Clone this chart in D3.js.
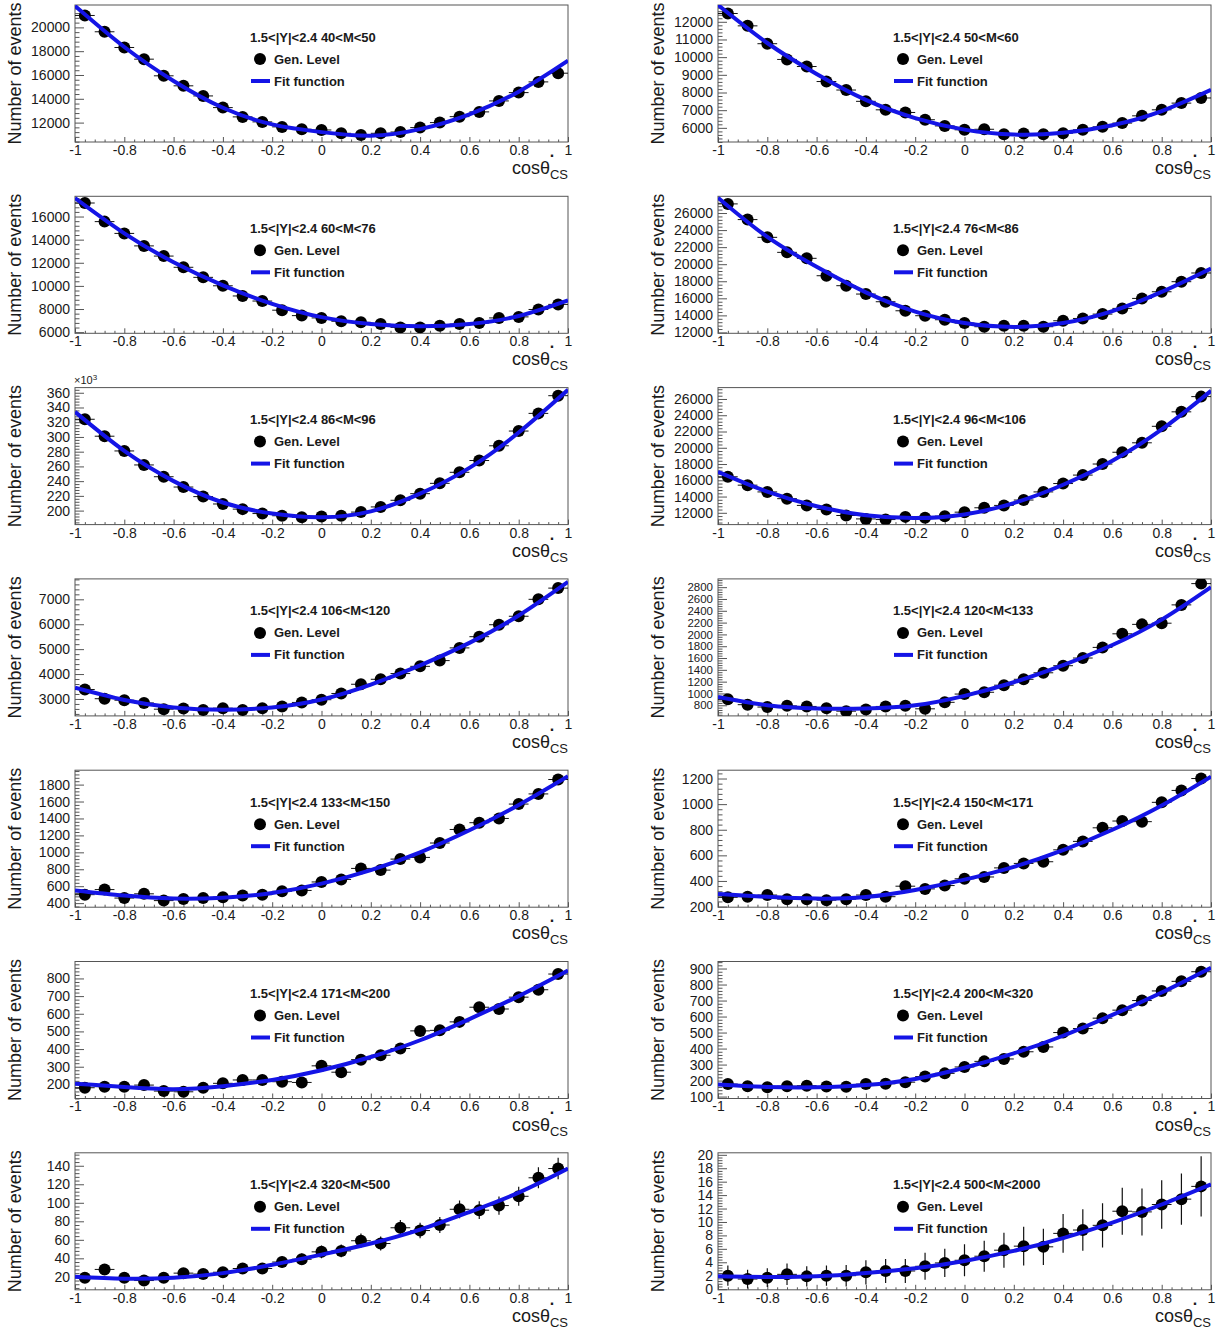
<!DOCTYPE html>
<html>
<head>
<meta charset="utf-8">
<script src="https://cdn.jsdelivr.net/npm/d3@7"></script>
<style>
  body { margin: 0; background: #fff; }
  svg text { font-family: "Liberation Sans", Arial, sans-serif; fill: #1a1a1a; }
</style>
</head>
<body>
<svg id="chart" width="1224" height="1333"></svg>
<script>
// bin centres of the cos(theta_CS) histogram, 25 bins of width 0.08
const binCenters = [-0.96, -0.88, -0.8, -0.72, -0.64, -0.56, -0.48, -0.4, -0.32, -0.24, -0.16, -0.08, 0,
  0.08, 0.16, 0.24, 0.32, 0.4, 0.48, 0.56, 0.64, 0.72, 0.8, 0.88, 0.96];
const binHalfWidth = 0.04;
const fitNodes = [-1, -0.8, -0.6, -0.4, -0.2, 0, 0.2, 0.4, 0.6, 0.8, 1];
const xTicks = [-1, -0.8, -0.6, -0.4, -0.2, 0, 0.2, 0.4, 0.6, 0.8, 1];
const xTickLabels = ["-1", "-0.8", "-0.6", "-0.4", "-0.2", "0", "0.2", "0.4", "0.6", "0.8", "1"];

const rapidityLabel = "1.5<|Y|<2.4";
const massLabels = ["40<M<50", "50<M<60", "60<M<76", "76<M<86", "86<M<96", "96<M<106", "106<M<120",
  "120<M<133", "133<M<150", "150<M<171", "171<M<200", "200<M<320", "320<M<500", "500<M<2000"];

// y axis ranges and major tick steps, one per panel
const yRanges = [[10370, 21880], [5200, 12950], [5900, 17750], [11900, 27960], [181000, 367000],
  [10550, 27400], [2320, 7820], [620, 2940], [352, 1970], [195, 1265], [120, 896], [88, 944],
  [6, 154], [-0.1, 20.3]];
const yTickSteps = [2000, 1000, 2000, 2000, 20000, 2000, 1000, 200, 200, 200, 100, 100, 20, 2];

const gen_40_50 = [21000, 19630, 18310, 17330, 15930, 15090, 14240, 13260, 12480, 12060, 11640, 11440, 11380,
  11100, 10960, 11100, 11210, 11580, 12000, 12500, 12900, 13820, 14520, 15420, 16150];
const fit_40_50 = [21800, 18350, 15500, 13250, 11850, 11200, 10900, 11450, 12700, 14600, 17200];

const gen_50_60 = [12470, 11770, 10760, 9870, 9470, 8620, 8140, 7500, 7020, 6870, 6460, 6110, 5890,
  5920, 5640, 5680, 5640, 5700, 5890, 6060, 6270, 6680, 7020, 7400, 7690];
const fit_50_60 = [12950, 10800, 9050, 7580, 6550, 5900, 5620, 5720, 6150, 6950, 8150];

const gen_60_76 = [17170, 15560, 14540, 13460, 12580, 11610, 10740, 10010, 9130, 8690, 7900, 7430, 7230,
  6940, 6850, 6700, 6410, 6410, 6560, 6700, 6790, 7230, 7320, 7960, 8400];
const fit_60_76 = [17600, 14550, 12050, 10050, 8450, 7300, 6700, 6500, 6700, 7400, 8750];

const gen_76_86 = [27070, 25230, 23150, 21390, 20690, 18650, 17480, 16500, 15600, 14540, 13960, 13490, 13100,
  12670, 12780, 12780, 12670, 13370, 13640, 14150, 14820, 15990, 16770, 17950, 18970];
const fit_76_86 = [27800, 23200, 19700, 16700, 14450, 13100, 12650, 13100, 14500, 16750, 19500];

const gen_86_96 = [324000, 301000, 281000, 262000, 246000, 232000, 219000, 209000, 202000, 196000, 193000, 191000, 192000,
  193000, 198000, 205000, 214000, 223000, 237000, 252000, 268000, 288000, 308000, 332000, 356000];
const fit_86_96 = [334000, 281000, 240000, 211000, 196000, 191000, 199000, 223000, 258000, 306000, 364000];

const gen_96_106 = [16430, 15400, 14570, 13740, 12910, 12410, 11670, 11250, 11170, 11500, 11380, 11590, 12080,
  12620, 12910, 13570, 14570, 15600, 16640, 18000, 19450, 20610, 22640, 24420, 26290];
const fit_96_106 = [17050, 14600, 12800, 11700, 11350, 11800, 13200, 15450, 18400, 22250, 27000];

const gen_106_120 = [3380, 3010, 2950, 2840, 2590, 2620, 2560, 2630, 2560, 2630, 2700, 2860, 2970,
  3220, 3590, 3790, 4020, 4310, 4540, 5050, 5500, 5980, 6320, 7000, 7450];
const fit_106_120 = [3450, 2960, 2660, 2570, 2660, 2980, 3580, 4350, 5250, 6350, 7700];

const gen_120_133 = [900, 810, 770, 790, 780, 750, 700, 730, 780, 790, 740, 850, 990,
  1020, 1140, 1240, 1350, 1470, 1600, 1780, 2010, 2170, 2190, 2500, 2860];
const fit_120_133 = [940, 800, 745, 745, 800, 960, 1190, 1480, 1820, 2250, 2800];

const gen_133_150 = [500, 560, 460, 510, 430, 450, 460, 470, 490, 500, 540, 550, 650,
  680, 810, 790, 920, 940, 1110, 1270, 1350, 1400, 1570, 1690, 1860];
const fit_133_150 = [550, 490, 455, 465, 520, 630, 790, 1000, 1260, 1560, 1900];

const gen_150_171 = [272, 277, 290, 258, 258, 250, 258, 290, 277, 359, 338, 364, 417,
  431, 502, 537, 550, 643, 709, 815, 868, 863, 1014, 1107, 1200];
const fit_150_171 = [298, 276, 262, 275, 330, 410, 510, 640, 800, 990, 1215];

const gen_171_200 = [181, 187, 187, 196, 162, 158, 181, 206, 225, 225, 215, 211, 305,
  269, 340, 365, 403, 503, 506, 554, 637, 627, 694, 736, 825];
const fit_171_200 = [204, 185, 173, 190, 225, 280, 355, 450, 570, 700, 845];

const gen_200_320 = [178, 165, 158, 165, 168, 163, 162, 178, 180, 190, 225, 245, 285,
  320, 335, 380, 410, 500, 525, 590, 640, 700, 760, 820, 880];
const fit_200_320 = [175, 160, 158, 172, 210, 280, 370, 480, 610, 750, 905];

const gen_320_500 = [19, 28, 19, 16, 19, 24, 23, 25, 29, 29, 36, 39, 47,
  48, 59, 56, 73, 70, 76, 93, 92, 97, 107, 127, 137];
const err_320_500 = [4.4, 5.3, 4.4, 4.0, 4.4, 4.9, 4.8, 5.0, 5.4, 5.4, 6.0, 6.2, 6.9,
  6.9, 7.7, 7.5, 8.5, 8.4, 8.7, 9.6, 9.6, 9.8, 10.3, 11.3, 11.7];
const fit_320_500 = [20, 18, 19, 24, 33, 44, 56, 71, 90, 111, 137];

const gen_500_2000 = [2.0, 1.5, 1.7, 2.2, 1.9, 2.0, 2.0, 2.5, 2.7, 2.7, 3.4, 3.9, 4.3,
  4.9, 5.8, 6.4, 6.3, 8.3, 8.8, 9.5, 11.6, 11.5, 12.6, 13.4, 15.3];
const err_500_2000 = [1.5, 1.4, 1.4, 1.6, 1.5, 1.5, 1.6, 1.8, 1.8, 1.8, 2.0, 2.1, 2.4,
  2.3, 2.6, 2.9, 2.7, 2.9, 3.1, 3.3, 3.5, 3.5, 3.6, 3.8, 4.5];
const fit_500_2000 = [1.9, 1.8, 1.9, 2.4, 3.1, 4.2, 5.7, 7.6, 9.9, 12.6, 15.6];

const genSeries = [gen_40_50, gen_50_60, gen_60_76, gen_76_86, gen_86_96, gen_96_106, gen_106_120,
  gen_120_133, gen_133_150, gen_150_171, gen_171_200, gen_200_320, gen_320_500, gen_500_2000];
const fitSeries = [fit_40_50, fit_50_60, fit_60_76, fit_76_86, fit_86_96, fit_96_106, fit_106_120,
  fit_120_133, fit_133_150, fit_150_171, fit_171_200, fit_200_320, fit_320_500, fit_500_2000];
const errSeries = [null, null, null, null, null, null, null, null, null, null, null, null, err_320_500, err_500_2000];

// layout
const frameW = 493;
const frameH = 137;
const colX = [75, 718];
const rowTop = 5;
const rowStep = 191.3;
const fitColor = "#1414e6";
const axisColor = "#555";

let svg = d3.select("#chart");

massLabels.forEach((mass, i) => {
  let col = i % 2;
  let row = Math.floor(i / 2);
  let g = svg.append("g")
    .attr("transform", `translate(${colX[col]},${rowTop + row * rowStep})`);

  let x = d3.scaleLinear().domain([-1, 1]).range([0, frameW]);
  let y = d3.scaleLinear().domain(yRanges[i]).range([frameH, 0]);

  let step = yTickSteps[i];
  let [lo, hi] = yRanges[i];
  let major = [];
  for (let k = Math.ceil(lo / step - 1e-9); k * step <= hi + 1e-9; k++) major.push(k * step);
  let minorStep = step / 5;
  let minor = [];
  for (let k = Math.ceil(lo / minorStep - 1e-9); k * minorStep <= hi + 1e-9; k++) {
    if (k % 5 != 0) minor.push(k * minorStep);
  }
  let inThousands = i == 4;
  // crowded axes get slightly smaller labels
  let tickGap = Math.abs(y(lo) - y(lo + step));
  let labelSize = tickGap < 13 ? 11.5 : 14;

  // y axis, ticks pointing into the frame (ROOT style)
  g.append("g")
    .call(d3.axisLeft(y).tickValues(minor).tickSize(-4.5).tickFormat(""))
    .call((a) => a.select(".domain").remove());
  g.append("g")
    .call(d3.axisLeft(y).tickValues(major).tickSize(-9).tickPadding(5)
      .tickFormat((d) => (inThousands ? d / 1000 : d)))
    .call((a) => a.select(".domain").remove())
    .selectAll("text")
    .style("font-size", labelSize + "px")
    .style("font-family", "Liberation Sans, Arial, sans-serif");

  // x axis
  let xMinor = [];
  for (let k = -25; k <= 25; k++) if (k % 5 != 0) xMinor.push(k * 0.04);
  g.append("g")
    .attr("transform", `translate(0,${frameH})`)
    .call(d3.axisBottom(x).tickValues(xMinor).tickSize(-2.5).tickFormat(""))
    .call((a) => a.select(".domain").remove());
  g.append("g")
    .attr("transform", `translate(0,${frameH})`)
    .call(d3.axisBottom(x).tickValues(xTicks).tickSize(-5).tickPadding(3)
      .tickFormat((d, k) => xTickLabels[k]))
    .call((a) => a.select(".domain").remove())
    .selectAll("text")
    .style("font-size", "14px")
    .style("font-family", "Liberation Sans, Arial, sans-serif");

  g.selectAll(".tick line").attr("stroke", axisColor);

  // stray dot printed next to the last label
  g.append("text")
    .attr("x", x(0.935))
    .attr("y", frameH + 15)
    .attr("text-anchor", "middle")
    .style("font-size", "16px")
    .style("font-weight", "bold")
    .text(".");

  // frame
  g.append("rect")
    .attr("width", frameW)
    .attr("height", frameH)
    .attr("fill", "none")
    .attr("stroke", axisColor)
    .attr("stroke-width", 1);

  if (inThousands) {
    let t = g.append("text").attr("x", -1).attr("y", -4).style("font-size", "11px");
    t.append("tspan").text("\u00d710");
    t.append("tspan").attr("dy", -4).style("font-size", "8px").text("3");
  }

  // axis titles
  g.append("text")
    .attr("transform", `translate(-60,${frameH / 2}) rotate(-90)`)
    .attr("text-anchor", "middle")
    .attr("dy", "0.35em")
    .style("font-size", "18px")
    .text("Number of events");

  let xt = g.append("text")
    .attr("x", frameW)
    .attr("y", frameH + 32)
    .attr("text-anchor", "end")
    .style("font-size", "18px");
  xt.append("tspan").text("cos\u03b8");
  xt.append("tspan").attr("dy", 5).style("font-size", "13px").text("CS");

  // data points
  let clipId = "clip" + i;
  g.append("clipPath").attr("id", clipId)
    .append("rect").attr("width", frameW).attr("height", frameH);

  let points = binCenters.map((c, k) => ({
    c: c,
    v: genSeries[i][k],
    e: errSeries[i] ? errSeries[i][k] : 0,
  }));

  let pts = g.append("g").attr("clip-path", `url(#${clipId})`);
  pts.selectAll(".hbar")
    .data(points)
    .enter()
    .append("line")
    .attr("x1", (d) => x(d.c - binHalfWidth))
    .attr("x2", (d) => x(d.c + binHalfWidth))
    .attr("y1", (d) => y(d.v))
    .attr("y2", (d) => y(d.v))
    .attr("stroke", "#111")
    .attr("stroke-width", 1);
  pts.selectAll(".vbar")
    .data(points.filter((d) => d.e > 0))
    .enter()
    .append("line")
    .attr("x1", (d) => x(d.c))
    .attr("x2", (d) => x(d.c))
    .attr("y1", (d) => y(d.v - d.e))
    .attr("y2", (d) => y(d.v + d.e))
    .attr("stroke", "#111")
    .attr("stroke-width", 1.2);
  pts.selectAll("circle")
    .data(points)
    .enter()
    .append("circle")
    .attr("cx", (d) => x(d.c))
    .attr("cy", (d) => y(d.v))
    .attr("r", 6)
    .attr("fill", "#000");

  // fit curve on top of the points
  let fitLine = d3.line()
    .x((d) => x(d[0]))
    .y((d) => y(d[1]))
    .curve(d3.curveNatural);
  g.append("path")
    .datum(fitNodes.map((n, k) => [n, fitSeries[i][k]]))
    .attr("clip-path", `url(#${clipId})`)
    .attr("d", fitLine)
    .attr("fill", "none")
    .attr("stroke", fitColor)
    .attr("stroke-width", 4);

  // legend
  let leg = g.append("g").attr("transform", "translate(175,0)");
  leg.append("text")
    .attr("x", 0).attr("y", 32).attr("dy", "0.35em")
    .style("font-size", "13px").style("font-weight", "bold")
    .text(rapidityLabel + " " + mass);
  leg.append("circle").attr("cx", 10).attr("cy", 54).attr("r", 6).attr("fill", "#000");
  leg.append("text")
    .attr("x", 24).attr("y", 54).attr("dy", "0.35em")
    .style("font-size", "13px").style("font-weight", "bold")
    .text("Gen. Level");
  leg.append("line")
    .attr("x1", 1).attr("x2", 20).attr("y1", 76).attr("y2", 76)
    .attr("stroke", fitColor).attr("stroke-width", 4);
  leg.append("text")
    .attr("x", 24).attr("y", 76).attr("dy", "0.35em")
    .style("font-size", "13px").style("font-weight", "bold")
    .text("Fit function");
});
</script>
</body>
</html>
